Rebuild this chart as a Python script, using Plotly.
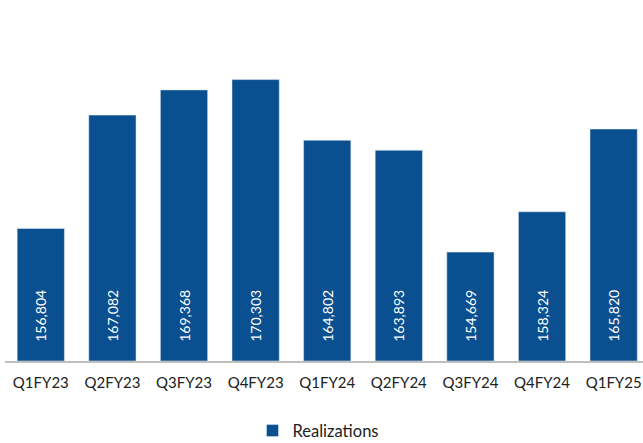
import plotly.graph_objects as go

categories = ["Q1FY23", "Q2FY23", "Q3FY23", "Q4FY23", "Q1FY24", "Q2FY24", "Q3FY24", "Q4FY24", "Q1FY25"]
realizations = [156804, 167082, 169368, 170303, 164802, 163893, 154669, 158324, 165820]
series_name = "Realizations"

axis_min = 144800
axis_max = 177515

bar_color = "#0A4F8F"
pad = "<span style='color:rgba(0,0,0,0)'>00</span>"

fig = go.Figure()
fig.add_trace(go.Bar(
    x=categories,
    y=[v - axis_min for v in realizations],
    base=axis_min,
    customdata=realizations,
    hovertemplate="%{x}: %{customdata:,}<extra></extra>",
    name=series_name,
    marker=dict(color=bar_color),
    text=[pad + f"{v:,}" for v in realizations],
    textposition="inside",
    insidetextanchor="start",
    textangle=-90,
    textfont=dict(color="white", size=14, family="Lato"),
    showlegend=True,
))

fig.update_layout(
    width=643, height=443,
    margin=dict(l=5, r=0, t=0, b=82, autoexpand=False),
    paper_bgcolor="white", plot_bgcolor="white",
    bargap=0.34,
    font=dict(family="Lato", size=15, color="#222222"),
    xaxis=dict(
        range=[-0.5, 8.41],
        showline=True, linecolor="#BFBFBF", linewidth=1.5,
        showgrid=False, ticks="outside", ticklen=7, tickcolor="rgba(0,0,0,0)",
        tickfont=dict(size=15, color="#222222"),
    ),
    yaxis=dict(
        range=[axis_min, axis_max],
        visible=False, showgrid=False, zeroline=False,
    ),
    showlegend=True,
    legend=dict(
        orientation="h", x=0.5 - 6 / 638, xanchor="center", y=-0.145, yanchor="top",
        font=dict(size=16.5, color="#222222"),
        itemwidth=30,
    ),
)

fig.write_html("out.html")
